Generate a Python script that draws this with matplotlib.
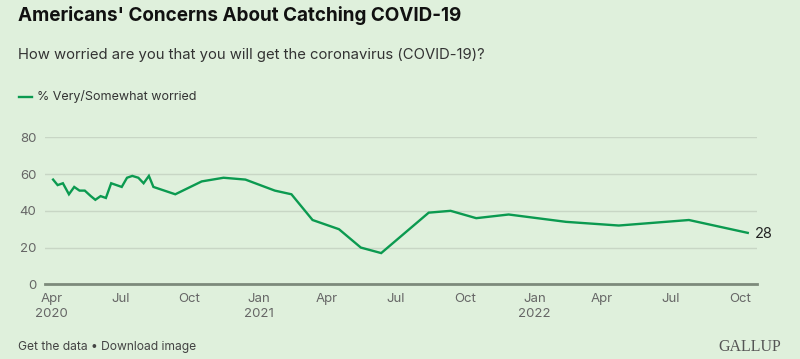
import numpy as np
import pandas as pd
import matplotlib
matplotlib.use("Agg")
import matplotlib.pyplot as plt
import matplotlib.dates as mdates

# survey dates and % very/somewhat worried
dates = pd.to_datetime([
    "2020-04-03", "2020-04-09", "2020-04-16", "2020-04-24", "2020-05-01",
    "2020-05-08", "2020-05-15", "2020-05-23", "2020-05-29", "2020-06-05",
    "2020-06-12", "2020-06-19", "2020-07-03", "2020-07-10", "2020-07-17",
    "2020-07-25", "2020-08-01", "2020-08-08", "2020-08-14", "2020-09-12",
    "2020-10-17", "2020-11-15", "2020-12-14", "2021-01-22", "2021-02-13",
    "2021-03-13", "2021-04-17", "2021-05-16", "2021-06-12", "2021-08-14",
    "2021-09-12", "2021-10-16", "2021-11-28", "2022-02-12", "2022-04-23",
    "2022-07-25", "2022-10-11",
])
worried = [57, 54, 55, 49, 53, 51, 51, 48, 46, 48,
           47, 55, 53, 58, 59, 58, 55, 59, 53, 49,
           56, 58, 57, 51, 49, 35, 30, 20, 17, 39,
           40, 36, 38, 34, 32, 35, 28]

tick_dates = pd.date_range("2020-04-01", "2022-10-01", freq="QS-JAN")
tick_labels = ["Apr\n2020", "Jul", "Oct", "Jan\n2021", "Apr", "Jul", "Oct",
               "Jan\n2022", "Apr", "Jul", "Oct"]

bg = "#dff0dc"
green = "#0b9a50"
font = "Inter"

fig = plt.figure(figsize=(8, 3.59), dpi=100, facecolor=bg)
ax = fig.add_axes([0.056, 0.208, 0.89, 0.4095], facecolor=bg)

ax.plot(dates, worried, color=green, lw=1.7, solid_joinstyle="miter")
ax.text(dates[-1] + pd.Timedelta(days=10), worried[-1] - 0.5, str(worried[-1]),
        fontsize=10.5, color="#222222", va="center", ha="left", family=font)

ax.set_ylim(0, 80)
ax.set_yticks([0, 20, 40, 60, 80])
ax.set_xlim(pd.Timestamp("2020-03-23"), pd.Timestamp("2022-10-23"))
ax.set_xticks(tick_dates)
ax.set_xticklabels(tick_labels)
ax.grid(axis="y", color="#c8d6c5", lw=1)
ax.set_axisbelow(True)
for s in ["top", "right", "left"]:
    ax.spines[s].set_visible(False)
ax.spines["bottom"].set_color("#7d8a7b")
ax.spines["bottom"].set_linewidth(2)
ax.tick_params(length=0, labelsize=9.5, labelcolor="#666666", pad=6)
ax.tick_params(axis="y", pad=6)
for lab in ax.get_xticklabels() + ax.get_yticklabels():
    lab.set_family(font)
    lab.set_linespacing(1.35)

fig.text(0.0225, 0.957, "Americans' Concerns About Catching COVID-19",
         fontsize=13.6, fontweight="bold", color="#111111", family=font, va="center")
fig.text(0.0225, 0.848, "How worried are you that you will get the coronavirus (COVID-19)?",
         fontsize=10.7, color="#333333", family=font, va="center")
fig.lines.append(plt.Line2D([0.024, 0.04], [0.73, 0.73], color=green, lw=1.7,
                            transform=fig.transFigure))
fig.text(0.046, 0.73, "% Very/Somewhat worried", fontsize=9, color="#333333",
         family=font, va="center")
fig.text(0.0225, 0.033, "Get the data \u2022 Download image", fontsize=8.7,
         color="#444444", family=["Liberation Sans Narrow", font], va="center")
fig.text(0.977, 0.033, "GALLUP", fontsize=11.5, color="#555555",
         family="Liberation Serif", va="center", ha="right")

fig.savefig("out.png", dpi=100, facecolor=bg)
